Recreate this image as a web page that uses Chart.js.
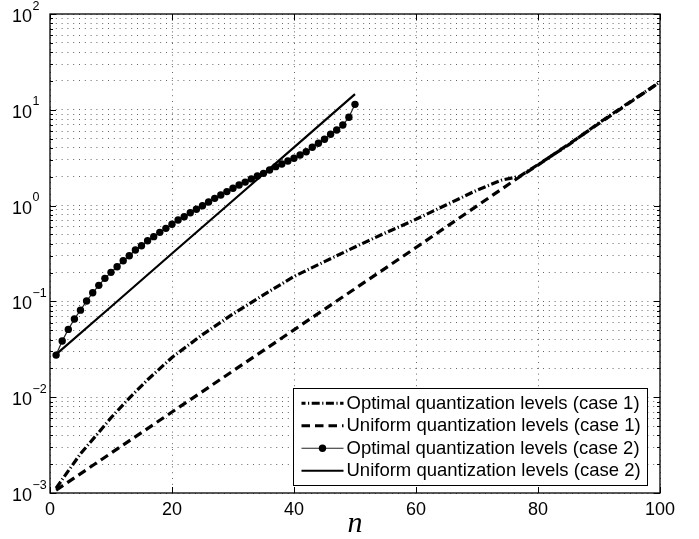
<!DOCTYPE html>
<html>
<head>
<meta charset="utf-8">
<title>Quantization levels</title>
<script src="https://cdn.jsdelivr.net/npm/chart.js@4.4.1/dist/chart.umd.min.js"></script>
<style>
    html, body { margin: 0; padding: 0; background: #fff; }
    #wrap { width: 699px; height: 539px; }
</style>
</head>
<body>
<div id="wrap"><canvas id="quantChart" width="699" height="539"></canvas></div>
<script>
// values
const nOptCase1 = [1, 3, 5, 8, 10, 13, 16, 20, 25, 30, 35, 40, 45, 50, 55, 60, 65, 70, 74, 77, 80, 85, 90, 95, 100];
const optCase1 = [0.00112, 0.0017, 0.00257, 0.0043, 0.0061, 0.0098, 0.0152, 0.026, 0.045, 0.074, 0.117, 0.182, 0.26, 0.37, 0.52, 0.72, 1.02, 1.45, 1.84, 2.02, 2.68, 4.3, 7.3, 12.0, 19.5];

const nUniCase1 = [1, 20, 40, 60, 77, 80, 100];
const uniCase1 = [0.00107, 0.0070, 0.0505, 0.365, 2.0, 2.65, 19.5];

const nOptCase2 = [1, 2, 3, 4, 5, 6, 7, 8, 9, 10, 11, 12, 13, 14, 15, 16, 17, 18, 19, 20, 21, 22, 23, 24, 25,
    26, 27, 28, 29, 30, 31, 32, 33, 34, 35, 36, 37, 38, 39, 40, 41, 42, 43, 44, 45, 46, 47, 48, 49, 50];
const optCase2 = [0.0275, 0.0386, 0.051, 0.0655, 0.081, 0.101, 0.123, 0.147, 0.174, 0.201,
    0.230, 0.266, 0.300, 0.344, 0.381, 0.430, 0.474, 0.526, 0.579, 0.638,
    0.708, 0.766, 0.843, 0.915, 0.998, 1.09, 1.19, 1.29, 1.40, 1.52,
    1.64, 1.76, 1.90, 2.04, 2.17, 2.35, 2.55, 2.72, 2.92, 3.12,
    3.37, 3.65, 4.06, 4.47, 4.92, 5.55, 6.15, 6.94, 8.35, 11.4];

const nUniCase2 = [1, 10, 20, 30, 40, 50];
const uniCase2 = [0.028, 0.088, 0.316, 1.13, 4.05, 14.6];

const seriesLabels = [
    'Optimal quantization levels (case 1)',
    'Uniform quantization levels (case 1)',
    'Optimal quantization levels (case 2)',
    'Uniform quantization levels (case 2)'
];

const xTicks = [0, 20, 40, 60, 80, 100];
const yMajor = [0.001, 0.01, 0.1, 1, 10, 100];
const yExponents = ['\u22123', '\u22122', '\u22121', '0', '1', '2'];
const yMinorSteps = [2, 3, 4, 5, 6, 7, 8, 9];

const FONT = '"Liberation Sans", Arial, Helvetica, sans-serif';
Chart.defaults.font.family = FONT;
Chart.defaults.color = '#000';

function toPoints(xs, ys) {
    return xs.map((n, i) => ({ x: n, y: ys[i] }));
}

// all log grid positions: 1..9 x 10^k
const yGridValues = [];
yMajor.forEach((v, i) => {
    yGridValues.push(v);
    if (i < yMajor.length - 1) yMinorSteps.forEach(m => yGridValues.push(v * m));
});

// MATLAB-like box: inward ticks, frame, 10^k labels, legend inside the axes
const matlabAxes = {
    id: 'matlabAxes',
    afterDraw(chart) {
        const { ctx, chartArea: a, scales } = chart;
        const xs = scales.x, ys = scales.y;
        ctx.save();

        // legend
        ctx.font = `18.5px ${FONT}`;
        const textW = Math.max(...seriesLabels.map(t => ctx.measureText(t).width));
        const rowH = 22.5;
        const boxW = Math.round(textW + 60);
        const boxH = Math.round(rowH * 4 + 7);
        const bx = Math.round(a.right - 13 - boxW) + 0.5;
        const by = Math.round(a.bottom - 8 - boxH) + 0.5;
        ctx.fillStyle = '#fff';
        ctx.fillRect(bx, by, boxW, boxH);
        ctx.strokeStyle = '#000';
        ctx.lineWidth = 1;
        ctx.setLineDash([]);
        ctx.strokeRect(bx, by, boxW, boxH);

        chart.data.datasets.forEach((ds, i) => {
            const cy = by + 3.5 + rowH * (i + 0.5);
            const x0 = bx + 8, x1 = bx + 50;
            ctx.save();
            ctx.strokeStyle = ds.borderColor;
            ctx.lineWidth = ds.borderWidth;
            ctx.setLineDash(ds.borderDash || []);
            ctx.lineDashOffset = ds.legendDashOffset || 0;
            ctx.beginPath();
            ctx.moveTo(x0, cy);
            ctx.lineTo(x1, cy);
            ctx.stroke();
            if (ds.pointRadius > 0) {
                ctx.fillStyle = ds.pointBackgroundColor;
                ctx.beginPath();
                ctx.arc((x0 + x1) / 2, cy, ds.pointRadius, 0, Math.PI * 2);
                ctx.fill();
            }
            ctx.restore();
            ctx.fillStyle = '#000';
            ctx.textAlign = 'left';
            ctx.textBaseline = 'middle';
            ctx.fillText(ds.label, bx + 53, cy + 0.5);
        });

        // ticks pointing inward
        ctx.strokeStyle = '#000';
        ctx.lineWidth = 1;
        ctx.beginPath();
        xTicks.forEach(v => {
            const px = Math.round(xs.getPixelForValue(v)) + 0.5;
            ctx.moveTo(px, a.bottom); ctx.lineTo(px, a.bottom - 6);
            ctx.moveTo(px, a.top); ctx.lineTo(px, a.top + 6);
        });
        yGridValues.forEach(v => {
            const py = Math.round(ys.getPixelForValue(v)) + 0.5;
            const len = yMajor.includes(v) ? 6 : 3;
            ctx.moveTo(a.left, py); ctx.lineTo(a.left + len, py);
            ctx.moveTo(a.right, py); ctx.lineTo(a.right - len, py);
        });
        ctx.stroke();

        // frame
        ctx.lineWidth = 1.3;
        ctx.strokeRect(a.left, a.top, a.right - a.left, a.bottom - a.top);

        // y labels as 10 with a raised exponent
        ctx.fillStyle = '#000';
        ctx.textBaseline = 'alphabetic';
        yMajor.forEach((v, i) => {
            const py = ys.getPixelForValue(v);
            ctx.font = `18px ${FONT}`;
            ctx.textAlign = 'right';
            ctx.fillText('10', a.left - 18, py + 8);
            ctx.font = `12.5px ${FONT}`;
            ctx.textAlign = 'left';
            ctx.fillText(yExponents[i], a.left - 17.5, py - 4.5);
        });
        ctx.restore();
    }
};

const gridDash = [1, 4.8];

new Chart(document.getElementById('quantChart'), {
    type: 'line',
    data: {
        datasets: [
            {
                label: seriesLabels[0],
                data: toPoints(nOptCase1, optCase1),
                borderColor: '#000',
                borderWidth: 3.2,
                borderDash: [8, 2.5, 1.2, 2.5],
                legendDashOffset: 4,
                pointRadius: 0
            },
            {
                label: seriesLabels[1],
                data: toPoints(nUniCase1, uniCase1),
                borderColor: '#000',
                borderWidth: 3.2,
                borderDash: [8.5, 5],
                pointRadius: 0
            },
            {
                label: seriesLabels[2],
                data: toPoints(nOptCase2, optCase2),
                borderColor: '#222',
                borderWidth: 1.2,
                pointRadius: 3.7,
                pointBackgroundColor: '#000',
                pointBorderWidth: 0
            },
            {
                label: seriesLabels[3],
                data: toPoints(nUniCase2, uniCase2),
                borderColor: '#000',
                borderWidth: 2.2,
                pointRadius: 0
            }
        ]
    },
    options: {
        responsive: false,
        animation: false,
        events: [],
        layout: { padding: { top: 14, right: 39, left: 0, bottom: 0 } },
        elements: { line: { tension: 0, borderCapStyle: 'butt' } },
        plugins: {
            legend: { display: false },
            tooltip: { enabled: false }
        },
        scales: {
            x: {
                type: 'linear',
                min: 0,
                max: 100,
                ticks: { stepSize: 20, font: { size: 18 }, padding: 6, color: '#000' },
                grid: { color: 'rgba(0,0,0,0.6)', lineWidth: 1, drawTicks: false },
                border: { display: false, dash: gridDash },
                title: {
                    display: true,
                    text: 'n',
                    font: { family: '"Liberation Serif", "DejaVu Serif", serif', style: 'italic', size: 30, lineHeight: 1 },
                    padding: { top: 0, bottom: 0 },
                    color: '#000'
                },
                afterFit(scale) { scale.height = 46; }
            },
            y: {
                type: 'logarithmic',
                min: 0.001,
                max: 100,
                ticks: { display: false },
                grid: { color: 'rgba(0,0,0,0.6)', lineWidth: 1, drawTicks: false },
                border: { display: false, dash: gridDash },
                afterBuildTicks(scale) {
                    scale.ticks = yGridValues.map(v => ({ value: v }));
                },
                afterFit(scale) { scale.width = 50; }
            }
        }
    },
    plugins: [matlabAxes]
});
</script>
</body>
</html>
